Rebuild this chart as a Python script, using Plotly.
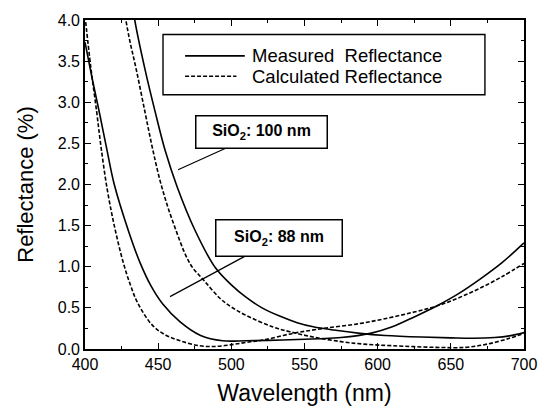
import plotly.graph_objects as go

# ---- data ----
wl_88_meas = [400, 405, 410, 415, 420, 430, 437.6, 445, 453, 465, 479, 494, 510, 525, 545, 560, 575, 595, 610, 625, 640, 655, 670, 685, 700]
r_88_meas = [3.73, 3.28, 2.86, 2.42, 2.0, 1.42, 1.05, 0.77, 0.55, 0.33, 0.165, 0.10, 0.10, 0.105, 0.115, 0.125, 0.14, 0.19, 0.27, 0.39, 0.52, 0.67, 0.85, 1.05, 1.29]

wl_88_calc = [400, 404, 408, 411, 415, 420, 426, 431, 436, 446, 455, 465, 478, 488, 499, 510, 522, 542, 563, 588, 608, 625, 640, 655, 670, 685, 700]
r_88_calc = [4.05, 3.42, 2.88, 2.45, 1.96, 1.5, 1.06, 0.78, 0.56, 0.29, 0.17, 0.10, 0.04, 0.03, 0.05, 0.08, 0.11, 0.19, 0.25, 0.31, 0.38, 0.45, 0.52, 0.62, 0.74, 0.88, 1.04]

wl_100_meas = [432, 434, 441, 448, 455, 463, 475, 489, 500, 510, 521, 533, 545, 556, 570, 588, 605, 630, 650, 665, 680, 690, 700]
r_100_meas = [4.25, 4.0, 3.4, 2.88, 2.4, 1.97, 1.45, 0.99, 0.78, 0.63, 0.50, 0.40, 0.32, 0.27, 0.23, 0.19, 0.165, 0.145, 0.135, 0.13, 0.14, 0.16, 0.20]

wl_100_calc = [426, 430, 435, 441, 446, 452, 460, 472, 481, 492, 500, 510, 528, 540, 556, 575, 590, 610, 640, 660, 675, 690, 700]
r_100_calc = [4.2, 3.8, 3.4, 2.88, 2.45, 2.0, 1.55, 1.03, 0.84, 0.62, 0.51, 0.41, 0.27, 0.21, 0.145, 0.09, 0.06, 0.04, 0.02, 0.02, 0.06, 0.13, 0.19]

x_ticks = [400, 450, 500, 550, 600, 650, 700]
y_ticks = [0.0, 0.5, 1.0, 1.5, 2.0, 2.5, 3.0, 3.5, 4.0]

FONT = "Liberation Sans, Arial, Helvetica, sans-serif"
SOLID = dict(color="black", width=1.6, shape="spline", smoothing=1.0)
DASH = dict(color="black", width=1.6, dash="4px,2px", shape="spline", smoothing=1.0)

fig = go.Figure()
fig.add_trace(go.Scatter(x=wl_88_meas, y=r_88_meas, mode="lines", line=SOLID, name="Measured Reflectance (88 nm)", showlegend=False))
fig.add_trace(go.Scatter(x=wl_88_calc, y=r_88_calc, mode="lines", line=DASH, name="Calculated Reflectance (88 nm)", showlegend=False))
fig.add_trace(go.Scatter(x=wl_100_meas, y=r_100_meas, mode="lines", line=SOLID, name="Measured Reflectance (100 nm)", showlegend=False))
fig.add_trace(go.Scatter(x=wl_100_calc, y=r_100_calc, mode="lines", line=DASH, name="Calculated Reflectance (100 nm)", showlegend=False))

axis_common = dict(
    showline=True, linecolor="black", linewidth=1.6, mirror="allticks",
    ticks="inside", ticklen=6, tickwidth=1.4, tickcolor="black",
    showgrid=False, zeroline=False,
    tickfont=dict(family=FONT, size=16, color="black"),
)

fig.update_xaxes(
    range=[400, 700], tickvals=x_ticks, ticktext=[str(v) for v in x_ticks],
    minor=dict(dtick=25, ticks="inside", ticklen=3, tickcolor="black", tickwidth=1.2),
    title=dict(text="Wavelength (nm)", font=dict(family=FONT, size=23, color="black"), standoff=13),
    **axis_common,
)
fig.update_yaxes(
    range=[0, 4.0], tickvals=y_ticks, ticktext=[f"{v:.1f}" for v in y_ticks],
    minor=dict(dtick=0.25, ticks="inside", ticklen=3, tickcolor="black", tickwidth=1.2),
    title=dict(text="Reflectance (%)", font=dict(family=FONT, size=22, color="black"), standoff=18),
    **axis_common,
)

# manual legend box
shapes = [
    dict(type="rect", xref="paper", yref="paper", x0=0.1777, x1=0.911, y0=0.773, y1=0.956,
         line=dict(color="black", width=1.4), fillcolor="white", layer="above"),
    dict(type="line", xref="paper", yref="paper", x0=0.228, x1=0.364, y0=0.891, y1=0.891,
         line=dict(color="black", width=1.6), layer="above"),
    dict(type="line", xref="paper", yref="paper", x0=0.228, x1=0.345, y0=0.829, y1=0.829,
         line=dict(color="black", width=1.6, dash="4px,2px"), layer="above"),
]

annotations = [
    dict(xref="paper", yref="paper", x=0.375, y=0.891, xanchor="left", yanchor="middle",
         text="Measured&nbsp; Reflectance", showarrow=False, font=dict(family=FONT, size=18.5, color="black")),
    dict(xref="paper", yref="paper", x=0.375, y=0.829, xanchor="left", yanchor="middle",
         text="Calculated Reflectance", showarrow=False, font=dict(family=FONT, size=18.5, color="black")),
    # label boxes with pointer lines to the curves
    dict(x=463.6, y=2.18, xref="x", yref="y", ax=83, ay=-37.5,
         text="<b>SiO<sub>2</sub>: 100 nm</b>", showarrow=True, arrowhead=0, arrowwidth=1.2,
         arrowcolor="black", standoff=0, width=128, height=29,
         bordercolor="black", borderwidth=1.5, borderpad=1, bgcolor="white",
         font=dict(family=FONT, size=16, color="black")),
    dict(x=458.1, y=0.637, xref="x", yref="y", ax=108.5, ay=-58.5,
         text="<b>SiO<sub>2</sub>: 88 nm</b>", showarrow=True, arrowhead=0, arrowwidth=1.2,
         arrowcolor="black", standoff=0, width=123, height=33,
         bordercolor="black", borderwidth=1.5, borderpad=1, bgcolor="white",
         font=dict(family=FONT, size=16, color="black")),
]

fig.update_layout(
    width=553, height=414,
    margin=dict(l=85, r=29, t=15, b=60),
    paper_bgcolor="white", plot_bgcolor="white",
    font=dict(family=FONT, color="black"),
    shapes=shapes, annotations=annotations,
    showlegend=False,
)

fig.write_html("out.html")
